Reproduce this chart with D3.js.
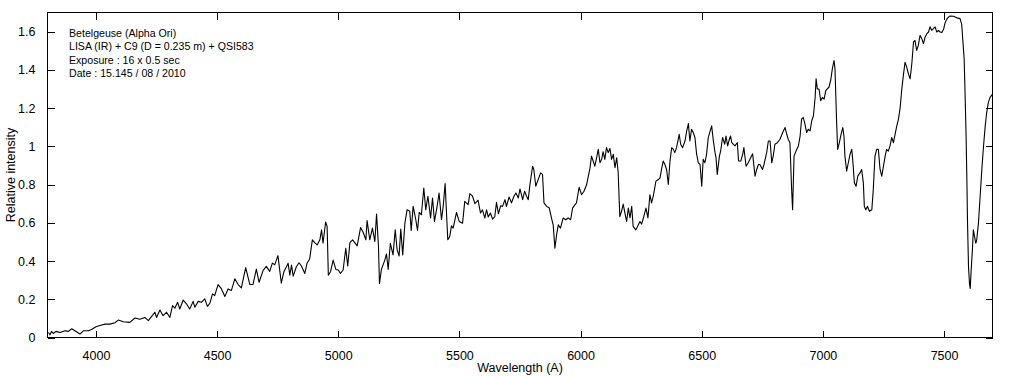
<!DOCTYPE html>
<html>
<head>
<meta charset="utf-8">
<script src="https://cdn.jsdelivr.net/npm/d3@7"></script>
<style>
  body { margin: 0; background: #fff; }
  svg { display: block; }
  text { font-family: "Liberation Sans", Arial, sans-serif; fill: #000; }
</style>
</head>
<body>
<svg id="chart" width="1014" height="376"></svg>
<script>
// spectre de Betelgeuse [lambda (A), intensite]
var spectrum = [
  [3804,0.026],[3810,0.014],[3817,0.032],[3824,0.021],[3835,0.032],[3852,0.026],[3872,0.035],[3886,0.032],
  [3900,0.046],[3913,0.035],[3934,0.018],[3948,0.035],[3968,0.035],[3982,0.042],[4000,0.056],[4016,0.063],
  [4037,0.070],[4058,0.070],[4078,0.077],[4092,0.091],[4113,0.082],[4140,0.079],[4161,0.102],[4181,0.095],
  [4202,0.105],[4216,0.088],[4229,0.109],[4243,0.132],[4250,0.105],[4264,0.144],[4277,0.114],[4291,0.132],
  [4305,0.105],[4316,0.167],[4326,0.154],[4337,0.184],[4346,0.149],[4360,0.196],[4374,0.175],[4387,0.149],
  [4401,0.189],[4408,0.158],[4422,0.189],[4435,0.184],[4449,0.202],[4460,0.163],[4470,0.179],[4481,0.228],
  [4490,0.219],[4504,0.277],[4518,0.254],[4532,0.214],[4545,0.254],[4559,0.246],[4573,0.307],[4587,0.277],
  [4600,0.260],[4618,0.365],[4635,0.277],[4648,0.277],[4662,0.358],[4673,0.289],[4690,0.351],[4703,0.372],
  [4717,0.346],[4728,0.389],[4738,0.381],[4751,0.428],[4765,0.284],[4775,0.342],
  [4786,0.370],[4793,0.388],[4800,0.326],[4807,0.379],[4814,0.321],[4827,0.370],[4838,0.391],[4848,0.374],
  [4862,0.335],[4871,0.388],[4882,0.411],[4893,0.511],[4903,0.496],[4913,0.484],[4924,0.511],[4931,0.563],
  [4937,0.493],[4948,0.604],[4954,0.581],[4959,0.326],[4968,0.344],[4979,0.405],[4990,0.356],[5000,0.353],
  [5009,0.335],[5020,0.353],[5031,0.467],[5039,0.374],[5048,0.496],[5059,0.511],[5068,0.496],[5078,0.479],
  [5092,0.575],[5103,0.549],[5114,0.511],[5119,0.612],[5130,0.511],[5141,0.572],[5151,0.502],[5158,0.646],
  [5166,0.475],[5170,0.282],[5178,0.356],[5192,0.405],[5199,0.437],[5206,0.356],[5215,0.493],[5226,0.432],
  [5235,0.563],[5243,0.458],[5251,0.426],[5258,0.567],[5266,0.432],[5275,0.598],[5284,0.668],[5295,0.660],
  [5301,0.560],[5309,0.686],[5320,0.616],[5327,0.560],[5334,0.654],[5343,0.642],[5353,0.782],[5361,0.668],
  [5370,0.739],[5381,0.625],[5389,0.730],[5397,0.607],[5408,0.686],[5416,0.756],[5426,0.616],[5433,0.686],
  [5441,0.805],[5447,0.642],[5452,0.511],[5460,0.528],[5467,0.584],[5474,0.572],[5488,0.654],[5499,0.607],
  [5513,0.598],[5522,0.712],[5536,0.695],[5543,0.753],[5554,0.739],[5564,0.700],[5577,0.718],[5587,0.651],
  [5595,0.668],[5605,0.625],[5612,0.668],[5619,0.630],[5628,0.651],[5637,0.619],[5646,0.633],[5653,0.707],
  [5661,0.647],[5670,0.689],[5678,0.686],[5688,0.721],[5694,0.686],[5705,0.735],[5715,0.704],[5725,0.739],
  [5733,0.756],[5743,0.730],[5750,0.777],[5761,0.721],[5769,0.765],
  [5777,0.739],[5784,0.721],[5791,0.800],[5802,0.896],[5807,0.879],[5815,0.791],[5825,0.826],[5835,0.861],
  [5843,0.853],[5849,0.704],[5860,0.686],[5871,0.677],[5880,0.625],[5887,0.589],[5894,0.467],[5901,0.537],
  [5908,0.589],[5917,0.572],[5928,0.625],[5939,0.616],[5949,0.625],[5959,0.616],[5967,0.677],[5977,0.695],
  [5983,0.704],[5994,0.786],[6004,0.747],[6014,0.765],[6025,0.800],[6032,0.844],[6038,0.879],[6045,0.949],
  [6052,0.923],[6059,0.896],[6066,0.940],[6073,0.984],[6080,0.914],[6087,0.932],[6093,0.972],[6100,0.932],
  [6107,0.993],[6114,0.967],[6121,0.989],[6128,0.932],[6135,0.958],[6142,0.888],[6149,0.940],[6155,0.867],
  [6162,0.633],[6169,0.660],[6176,0.698],[6183,0.651],[6190,0.607],[6197,0.677],[6204,0.625],[6211,0.686],
  [6217,0.581],[6228,0.563],[6238,0.589],[6245,0.607],[6252,0.593],[6261,0.633],[6270,0.677],[6278,0.625],
  [6286,0.747],[6293,0.704],[6300,0.739],[6311,0.818],[6321,0.826],[6328,0.835],[6334,0.879],[6341,0.923],
  [6348,0.905],[6355,0.879],[6362,0.800],[6369,0.923],[6376,0.993],[6383,0.984],[6389,0.967],[6396,0.993],
  [6407,1.063],[6413,1.011],[6421,0.993],[6431,1.028],[6438,1.081],[6445,1.119],[6451,1.028],[6458,1.089],
  [6465,1.072],[6472,1.046],[6479,0.958],[6486,0.914],[6493,0.905],[6500,0.791],[6506,0.932],[6513,0.914],
  [6520,0.958],[6527,1.046],[6534,1.077],[6541,1.107],[6548,1.028],[6555,0.967],[6559,0.940],[6564,0.853],
  [6573,0.949],[6578,0.975],[6586,1.046],[6595,1.011],[6600,1.054],[6607,1.002],[6614,1.037],[6619,1.054],
  [6624,1.019],[6630,1.011],[6637,1.002],[6647,1.019],[6652,0.923],[6661,0.923],[6669,0.958],[6674,0.993],
  [6683,0.896],[6692,0.914],[6702,0.940],[6710,0.961],[6720,0.844],[6727,0.879],[6734,0.905],[6740,0.905],
  [6751,0.879],[6757,0.905],
  [6768,0.967],[6775,1.028],[6782,1.028],[6789,0.914],[6795,0.949],[6802,1.011],[6812,1.019],[6823,1.037],
  [6834,1.072],[6844,1.098],[6851,1.063],[6857,1.037],[6864,1.019],[6871,0.774],[6875,0.668],[6881,0.949],
  [6889,0.975],[6899,1.002],[6906,1.054],[6912,1.142],[6919,1.151],[6926,1.116],[6933,1.072],[6940,1.089],
  [6947,1.081],[6954,1.133],[6961,1.160],[6968,1.256],[6972,1.353],[6977,1.300],[6984,1.300],[6991,1.239],
  [6998,1.256],[7005,1.247],[7012,1.291],[7018,1.300],[7025,1.309],[7032,1.344],[7039,1.405],[7046,1.449],
  [7050,1.405],[7057,1.116],[7061,0.984],[7068,1.019],[7075,1.063],[7082,1.098],[7087,1.054],[7091,0.949],
  [7098,0.870],[7105,0.914],[7112,0.958],[7119,0.984],[7123,0.932],[7130,0.809],[7137,0.791],[7144,0.844],
  [7153,0.861],[7160,0.879],[7167,0.809],[7171,0.686],[7177,0.668],[7184,0.686],[7192,0.660],[7202,0.668],
  [7208,0.774],[7215,0.949],[7222,0.984],[7229,0.984],[7236,0.879],[7243,0.844],[7250,0.896],[7257,0.949],
  [7263,0.984],[7270,0.975],[7277,1.002],[7284,1.046],[7291,1.019],[7298,1.063],[7305,1.107],[7312,1.142],
  [7319,1.204],[7325,1.291],[7332,1.370],[7339,1.440],[7346,1.414],[7353,1.379],[7360,1.353],[7367,1.432],
  [7374,1.546],[7380,1.554],[7387,1.502],[7394,1.528],[7401,1.581],[7408,1.563],[7415,1.537],[7422,1.572],
  [7429,1.589],[7436,1.598],[7442,1.625],[7449,1.607],[7456,1.616],[7463,1.625],[7470,1.598],[7477,1.607],
  [7484,1.598],[7491,1.595],[7498,1.612],[7504,1.645],[7511,1.664],[7518,1.676],[7525,1.682],[7539,1.680],
  [7553,1.672],[7566,1.668],[7573,1.638],[7577,1.563],[7583,1.458],[7587,1.265],[7591,1.054],[7594,0.844],
  [7597,0.598],[7601,0.370],[7605,0.282],[7608,0.256],[7612,0.353],[7617,0.458],[7621,0.563],[7626,0.528],
  [7631,0.493],[7635,0.511],[7642,0.598],[7649,0.739],[7656,0.879],[7663,1.002],[7670,1.107],[7676,1.177],
  [7683,1.230],[7690,1.256],[7697,1.268],[7701,1.274]
];

var xDomain = [3800, 7700];
var yDomain = [0, 1.7];
var xTicks = [4000, 4500, 5000, 5500, 6000, 6500, 7000, 7500];
var yTicks = [0, 0.2, 0.4, 0.6, 0.8, 1, 1.2, 1.4, 1.6];
var notes = [
  "Betelgeuse (Alpha Ori)",
  "LISA (IR) + C9 (D = 0.235 m) + QSI583",
  "Exposure : 16 x 0.5 sec",
  "Date : 15.145 / 08 / 2010"
];
var xTitle = "Wavelength (A)";
var yTitle = "Relative intensity";

// cadre du graphique (ne pas appeler "top" : window.top est en lecture seule)
var plotL = 47.5, plotR = 992.5, plotT = 12.5, plotB = 337.5, tickLen = 7;

var svg = d3.select("#chart");

var x = d3.scaleLinear().domain(xDomain).range([plotL, plotR]);
var y = d3.scaleLinear().domain(yDomain).range([plotB, plotT]);

// ejes: ticks hacia dentro en los cuatro lados
svg.append("g")
    .attr("transform", "translate(0," + plotB + ")")
    .call(d3.axisBottom(x).tickValues(xTicks).tickSize(-tickLen).tickPadding(tickLen + 7)
          .tickFormat(d3.format("d")));
svg.append("g")
    .attr("transform", "translate(0," + plotT + ")")
    .call(d3.axisTop(x).tickValues(xTicks).tickSize(-tickLen).tickFormat(""));
svg.append("g")
    .attr("transform", "translate(" + plotL + ",0)")
    .call(d3.axisLeft(y).tickValues(yTicks).tickSize(-tickLen).tickPadding(tickLen + 5)
          .tickFormat(function(d) { return d === 0 || d === 1 ? String(d) : d.toFixed(1); }));
svg.append("g")
    .attr("transform", "translate(" + plotR + ",0)")
    .call(d3.axisRight(y).tickValues(yTicks).tickSize(-tickLen).tickFormat(""));

svg.selectAll(".domain").remove();
svg.selectAll(".tick line").attr("stroke", "#000").attr("shape-rendering", "crispEdges");
svg.selectAll(".tick text")
    .style("font-size", "12.5px")
    .style("font-family", "'Liberation Sans', Arial, sans-serif");

svg.append("rect")
    .attr("x", plotL).attr("y", plotT)
    .attr("width", plotR - plotL).attr("height", plotB - plotT)
    .attr("fill", "none").attr("stroke", "#000")
    .attr("shape-rendering", "crispEdges");

// la curva
var line = d3.line()
    .x(function(d) { return x(d[0]); })
    .y(function(d) { return y(d[1]); });

svg.append("path")
    .datum(spectrum)
    .attr("d", line)
    .attr("fill", "none")
    .attr("stroke", "#000")
    .attr("stroke-width", 1.1)
    .attr("stroke-linejoin", "round");

// textos
svg.append("g").selectAll("text")
    .data(notes)
    .enter().append("text")
    .attr("x", 69)
    .attr("y", function(d, i) { return 36.5 + i * 13.5; })
    .style("font-size", "10.6px")
    .text(function(d) { return d; });

svg.append("text")
    .attr("x", (plotL + plotR) / 2)
    .attr("y", 372)
    .attr("text-anchor", "middle")
    .style("font-size", "12.5px")
    .text(xTitle);

svg.append("text")
    .attr("transform", "translate(15," + ((plotT + plotB) / 2) + ") rotate(-90)")
    .attr("text-anchor", "middle")
    .style("font-size", "12.5px")
    .text(yTitle);
</script>
</body>
</html>
